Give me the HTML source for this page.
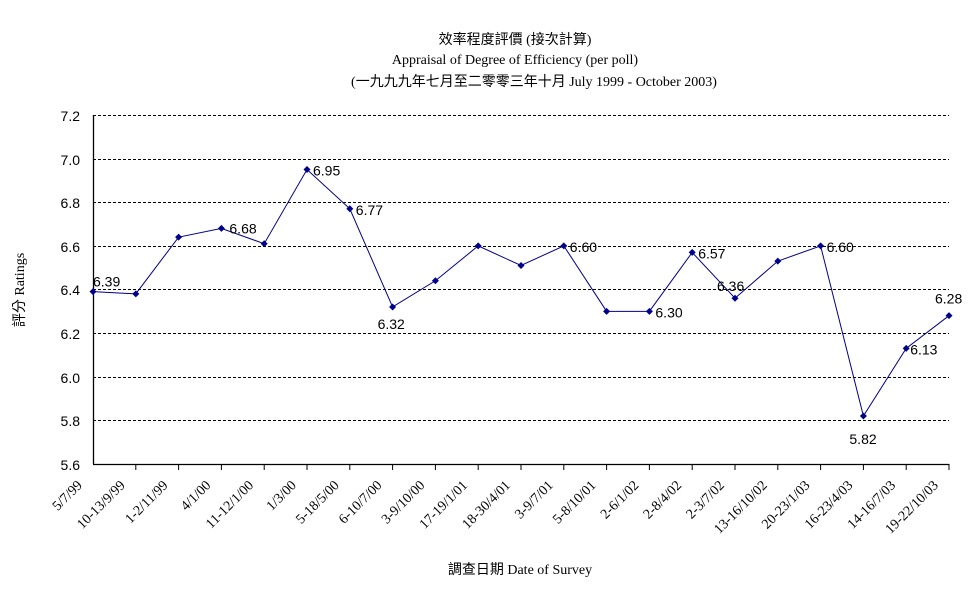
<!DOCTYPE html>
<html><head><meta charset="utf-8"><style>
body{margin:0;background:#fff}
svg text{fill:#000}
.s{font-family:"Liberation Sans","Noto Sans CJK TC",sans-serif;font-size:14px}
.r{font-family:"Liberation Serif","Noto Sans CJK TC",serif;font-size:14px}
</style></head><body>
<svg width="977" height="600" xmlns="http://www.w3.org/2000/svg">
<rect width="977" height="600" fill="#fff"/>
<text class="r" x="515" y="44" text-anchor="middle" font-size="14">效率程度評價 (接次計算)</text>
<text class="r" x="515" y="64" text-anchor="middle" font-size="13">Appraisal of Degree of Efficiency (per poll)</text>
<text class="r" x="534" y="86" text-anchor="middle" font-size="14">(一九九九年七月至二零零三年十月 July 1999 - October 2003)</text>
<g id="grid" stroke="#000" stroke-dasharray="3,2" stroke-width="1">
<line x1="93" x2="949" y1="115.5" y2="115.5"/>
<line x1="93" x2="949" y1="159.5" y2="159.5"/>
<line x1="93" x2="949" y1="202.5" y2="202.5"/>
<line x1="93" x2="949" y1="246.5" y2="246.5"/>
<line x1="93" x2="949" y1="289.5" y2="289.5"/>
<line x1="93" x2="949" y1="333.5" y2="333.5"/>
<line x1="93" x2="949" y1="377.5" y2="377.5"/>
<line x1="93" x2="949" y1="420.5" y2="420.5"/>
</g>
<g stroke="#000" stroke-width="1.3" fill="none">
<line x1="93.5" y1="115" x2="93.5" y2="464"/>
<line x1="93" y1="464.5" x2="949" y2="464.5"/>
</g>
<g id="ticks"></g>
<g class="s" text-anchor="end" font-size="15">
<text x="80" y="121">7.2</text><text x="80" y="165">7.0</text><text x="80" y="208">6.8</text><text x="80" y="252">6.6</text><text x="80" y="295">6.4</text><text x="80" y="339">6.2</text><text x="80" y="383">6.0</text><text x="80" y="426">5.8</text><text x="80" y="470">5.6</text>
</g>
<text class="r" transform="translate(24,290) rotate(-90)" text-anchor="middle">評分 Ratings</text>
<text class="r" x="520" y="574" text-anchor="middle">調查日期 Date of Survey</text>
<g id="xl" class="r" font-size="14"></g>
<polyline id="line" fill="none" stroke="#00008b" stroke-width="1"/>
<g id="pts" fill="#00008b"></g>
<g id="dl" class="s" font-size="14"></g>
</svg>
<script>
var labels=["5/7/99","10-13/9/99","1-2/11/99","4/1/00","11-12/1/00","1/3/00","5-18/5/00","6-10/7/00","3-9/10/00","17-19/1/01","18-30/4/01","3-9/7/01","5-8/10/01","2-6/1/02","2-8/4/02","2-3/7/02","13-16/10/02","20-23/1/03","16-23/4/03","14-16/7/03","19-22/10/03"];
var v=[6.39,6.38,6.64,6.68,6.61,6.95,6.77,6.32,6.44,6.60,6.51,6.60,6.30,6.30,6.57,6.36,6.53,6.60,5.82,6.13,6.28];
var show={0:[0,-5,"s"],3:[8,5,"r"],5:[6,6,"r"],6:[6,6,"r"],7:[-15,22,"b"],11:[6,6,"r"],13:[6,6,"r"],14:[6,6,"r"],15:[-18,-7,"t"],17:[6,6,"r"],18:[-14,28,"b"],19:[4,6,"r"],20:[-14,-12,"t"]};
var ns="http://www.w3.org/2000/svg";
function X(i){return 93+i*42.8}
function Y(a){return 464-(a-5.6)/1.6*349}
var pts=[],g=document.getElementById("pts"),t=document.getElementById("ticks"),xl=document.getElementById("xl"),dl=document.getElementById("dl");
for(var i=0;i<21;i++){var x=X(i),y=Y(v[i]);pts.push(x+","+y);
var p=document.createElementNS(ns,"polygon");p.setAttribute("points",(x)+","+(y-3.5)+" "+(x+3.5)+","+y+" "+x+","+(y+3.5)+" "+(x-3.5)+","+y);g.appendChild(p);
if(i>0){var l=document.createElementNS(ns,"line");l.setAttribute("x1",x);l.setAttribute("x2",x);l.setAttribute("y1",464);l.setAttribute("y2",470);l.setAttribute("stroke","#000");t.appendChild(l);}
var tx=document.createElementNS(ns,"text");tx.setAttribute("text-anchor","end");tx.setAttribute("transform","translate("+(x-10)+",486) rotate(-45)");tx.textContent=labels[i];xl.appendChild(tx);
if(show[i]){var d=document.createElementNS(ns,"text");d.setAttribute("x",x+show[i][0]);d.setAttribute("y",y+show[i][1]);d.textContent=v[i].toFixed(2);dl.appendChild(d);}
}
document.getElementById("line").setAttribute("points",pts.join(" "));
</script>
</body></html>
